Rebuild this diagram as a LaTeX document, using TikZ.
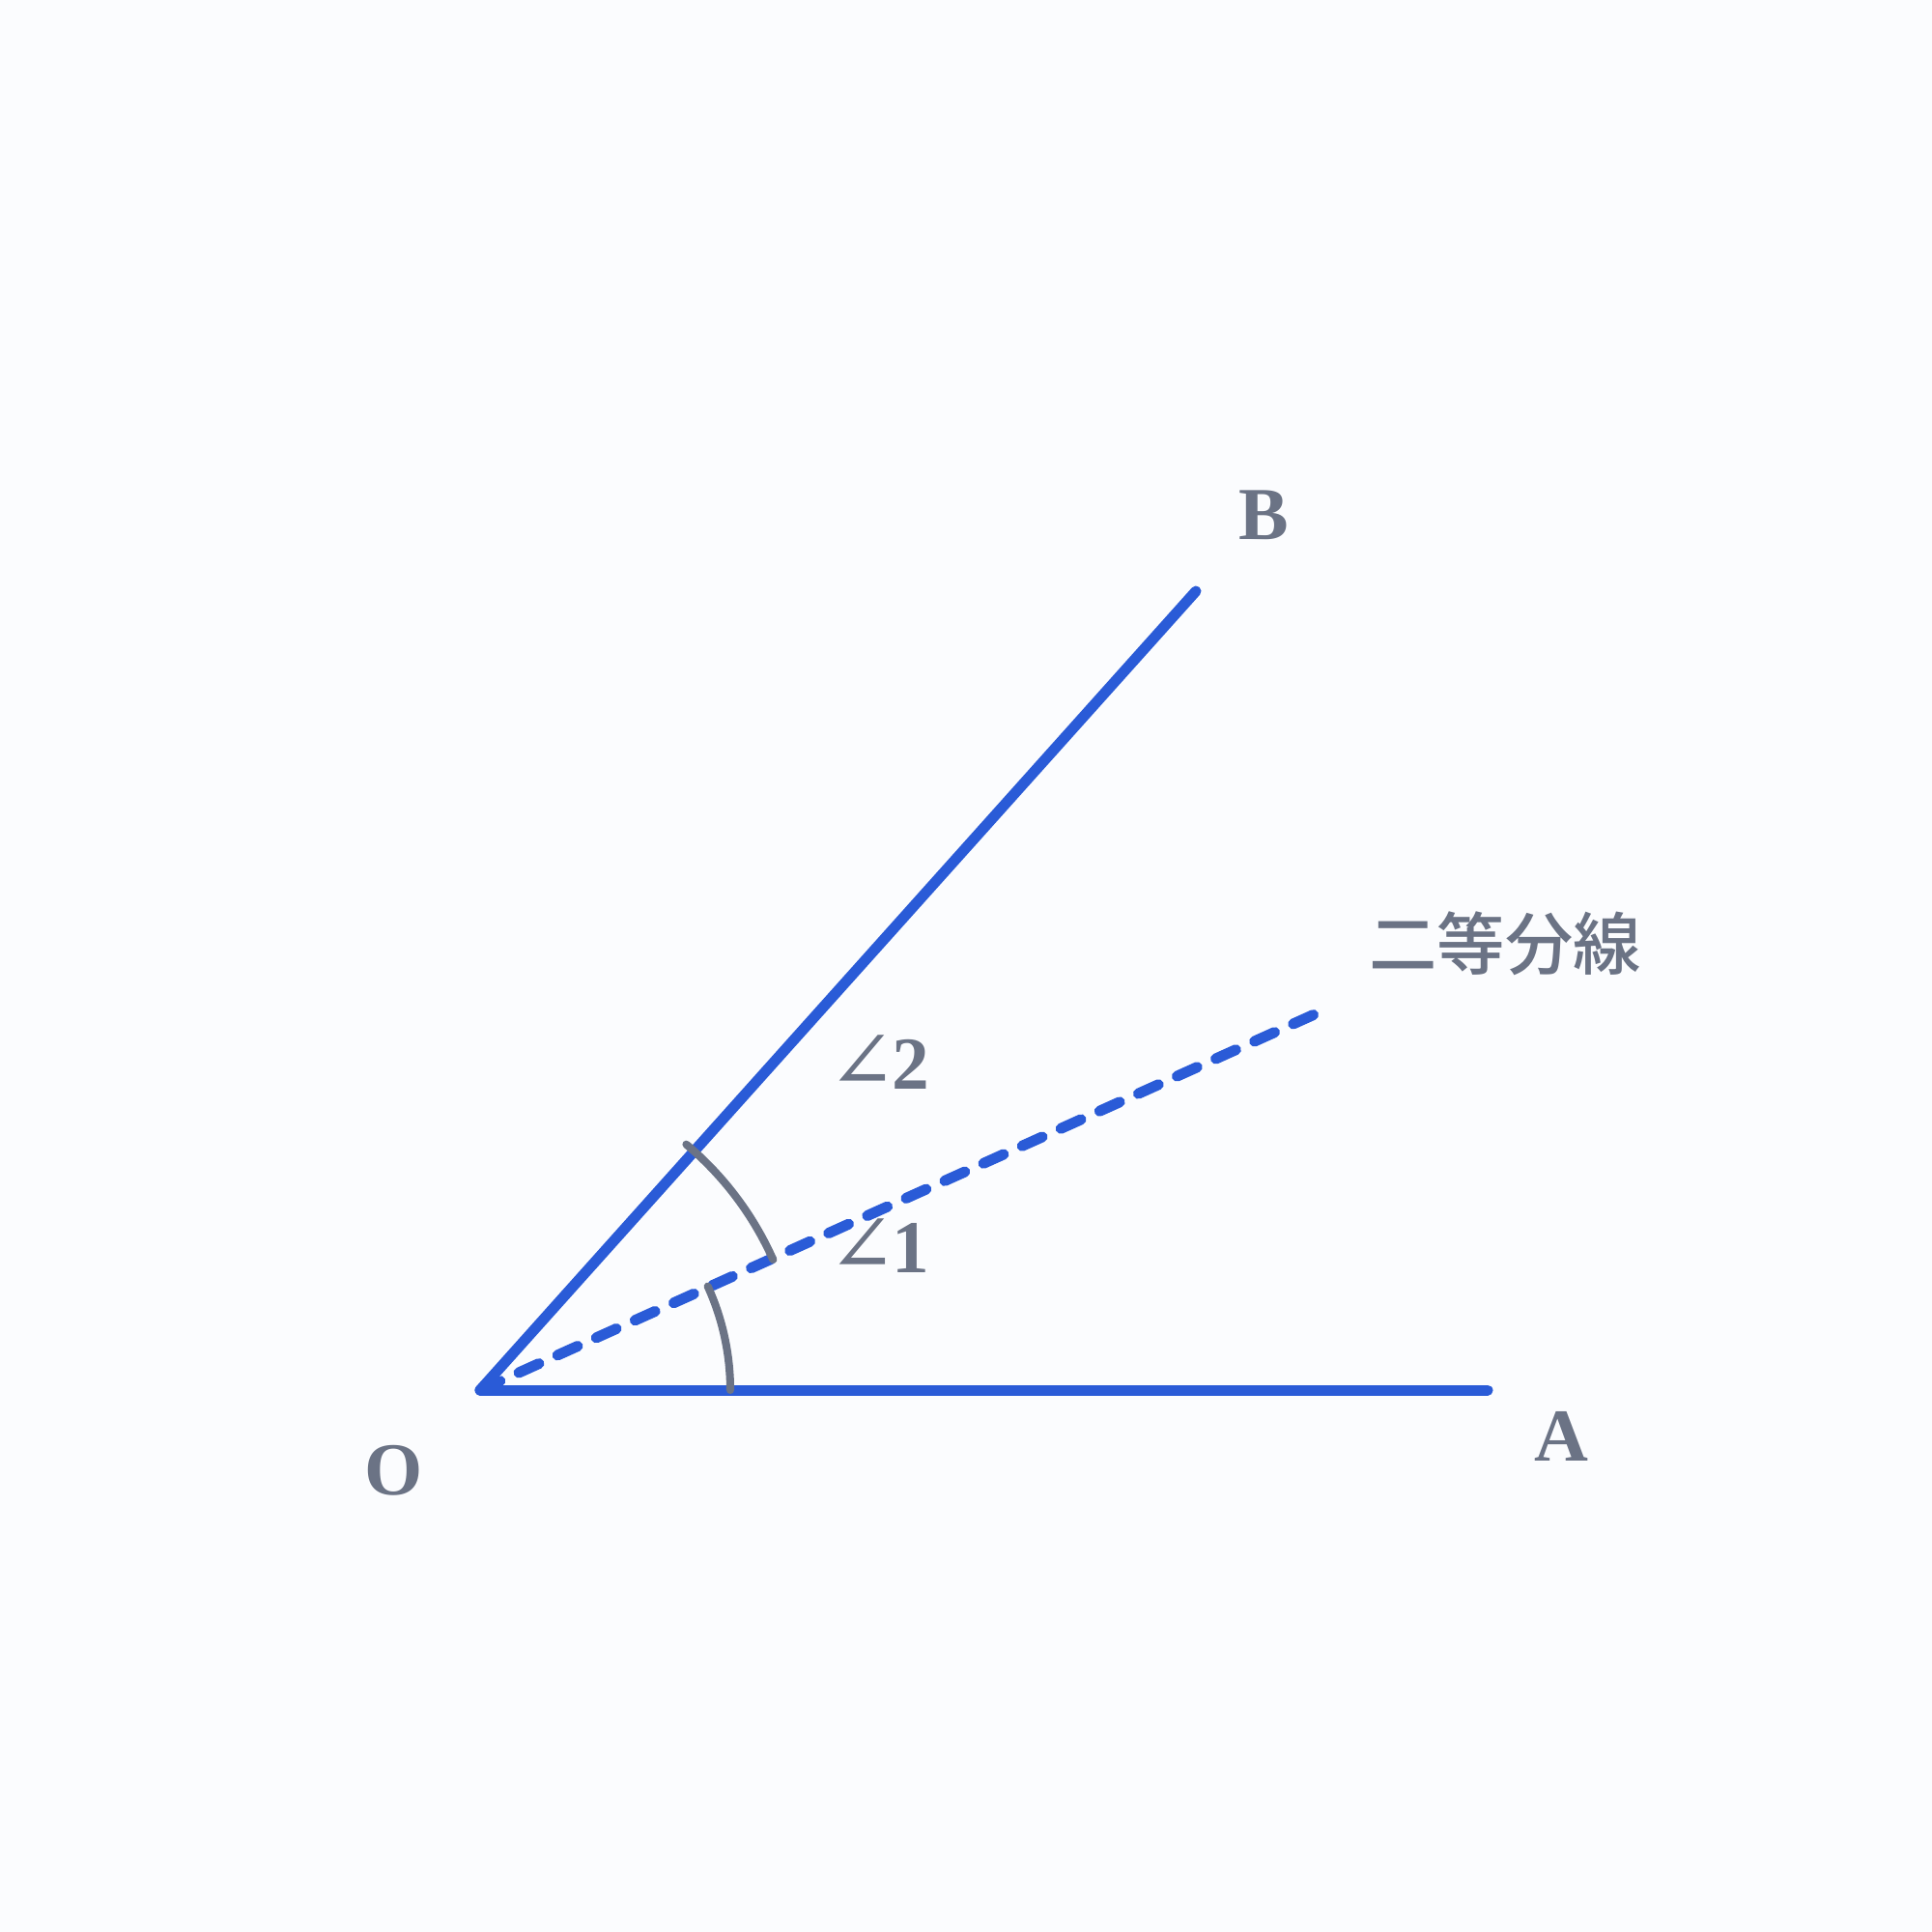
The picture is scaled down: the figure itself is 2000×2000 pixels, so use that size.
\documentclass[tikz,border=0pt]{standalone}
\usepackage{fontspec}
\setmainfont{Liberation Serif}
\newfontfamily\cjkfont{Noto Sans CJK JP Medium}
\newfontfamily\symfont{DejaVu Serif}
\definecolor{bgc}{HTML}{FBFCFE}
\definecolor{lineblue}{HTML}{2A5BD7}
\definecolor{markgray}{HTML}{6B7385}
\begin{document}
\begin{tikzpicture}[x=0.01cm,y=-0.01cm,
  ray/.style={draw=lineblue,line width=3.13pt,line cap=round},
  bisector/.style={draw=lineblue,line width=3.13pt,line cap=round,dash pattern=on 6.5pt off 6pt},
  anglearc/.style={draw=markgray,line width=2.3pt,line cap=round},
  ptlabel/.style={text=markgray,inner sep=0pt,font=\fontsize{22}{26}\selectfont\bfseries},
  anglabel/.style={text=markgray,inner sep=0pt,font=\fontsize{22}{26}\selectfont},
  cjklabel/.style={text=markgray,inner sep=0pt,font=\fontsize{20}{24}\selectfont\cjkfont}]
\fill[bgc] (0,0) rectangle (2000,2000);
\useasboundingbox (0,0) rectangle (2000,2000);
\coordinate (O) at (497,1439);
\coordinate (A) at (1540,1439);
\coordinate (B) at (1238,612);
\coordinate (M) at (1363,1049);
\draw[bisector] (O) -- (M);
\draw[ray] (O) -- (A);
\draw[ray] (O) -- (B);
\draw[anglearc] ([shift={(0:259)}]O) arc[start angle=0,end angle=-24.5,radius=259];
\draw[anglearc] ([shift={(-24:332)}]O) arc[start angle=-24,end angle=-50,radius=332];
\node[ptlabel] (lO) at (408,1522) {O};
\node[ptlabel] (lA) at (1616,1487) {A};
\node[ptlabel] (lB) at (1308,533) {B};
\node[anglabel] (l2) at (910,1100) {{\symfont\fontsize{24}{28}\selectfont ∠}\kern-1.5pt\textbf{2}};
\node[anglabel] (l1) at (910,1290) {{\symfont\fontsize{24}{28}\selectfont ∠}\kern-1.5pt\textbf{1}};
\node[cjklabel] (lbis) at (1558,977) {二等分線};
\end{tikzpicture}
\end{document}
